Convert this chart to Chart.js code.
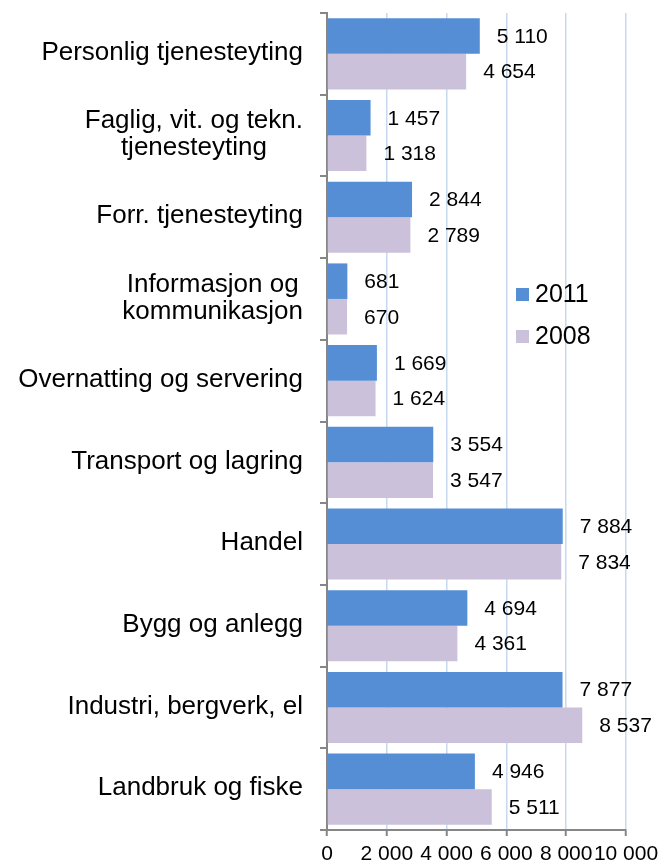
<!DOCTYPE html>
<html>
<head>
<meta charset="utf-8">
<script src="https://cdn.jsdelivr.net/npm/chart.js@4/dist/chart.umd.min.js"></script>
<style>
  html, body { margin: 0; padding: 0; background: #fff; }
  #wrap { width: 660px; height: 861px; }
</style>
</head>
<body>
<div id="wrap"><canvas id="SectorChart" width="660" height="861"></canvas></div>
<script>
// categories top to bottom, multi-line ones as arrays
const categories = [
  ['Personlig tjenesteyting'],
  ['Faglig, vit. og tekn.', 'tjenesteyting'],
  ['Forr. tjenesteyting'],
  ['Informasjon og', 'kommunikasjon'],
  ['Overnatting og servering'],
  ['Transport og lagring'],
  ['Handel'],
  ['Bygg og anlegg'],
  ['Industri, bergverk, el'],
  ['Landbruk og fiske']
];
const seriesNames = ['2011', '2008'];
const values2011 = [5110, 1457, 2844, 681, 1669, 3554, 7884, 4694, 7877, 4946];
const values2008 = [4654, 1318, 2789, 670, 1624, 3547, 7834, 4361, 8537, 5511];
const xTicks = [0, 2000, 4000, 6000, 8000, 10000];

const FONT = "'Liberation Sans', Arial, sans-serif";
const fmt = n => String(n).replace(/\B(?=(\d{3})+(?!\d))/g, ' ');

// category labels, right aligned block, lines centred in the block
const catLabels = {
  id: 'catLabels',
  afterDraw(chart) {
    const c = chart.ctx;
    const y = chart.scales.y;
    c.save();
    c.font = '26px ' + FONT;
    c.fillStyle = '#000';
    c.textAlign = 'center';
    c.textBaseline = 'middle';
    categories.forEach((lines, i) => {
      const cy = y.getPixelForValue(i) - 1;
      const w = Math.max(...lines.map(l => c.measureText(l).width));
      const cx = 303 - w / 2;
      lines.forEach((l, j) => {
        c.fillText(l, cx, cy + (j - (lines.length - 1) / 2) * 27);
      });
    });
    c.restore();
  }
};

// value labels next to each bar
const valueLabels = {
  id: 'valueLabels',
  afterDatasetsDraw(chart) {
    const c = chart.ctx;
    c.save();
    c.font = '21px ' + FONT;
    c.fillStyle = '#000';
    c.textAlign = 'left';
    c.textBaseline = 'middle';
    chart.data.datasets.forEach((ds, di) => {
      chart.getDatasetMeta(di).data.forEach((bar, i) => {
        c.fillText(fmt(ds.data[i]), bar.x + 17, bar.y + 1);
      });
    });
    c.restore();
  }
};

// legend inside the plot
const boxLegend = {
  id: 'boxLegend',
  afterDraw(chart) {
    const c = chart.ctx;
    c.save();
    c.font = '25px ' + FONT;
    c.textBaseline = 'middle';
    c.textAlign = 'left';
    chart.data.datasets.forEach((ds, i) => {
      const cy = 294 + i * 42;
      c.fillStyle = ds.backgroundColor;
      c.fillRect(516, cy - 6, 13, 13);
      c.fillStyle = '#000';
      c.fillText(ds.label, 535, cy + 1);
    });
    c.restore();
  }
};

new Chart(document.getElementById('SectorChart').getContext('2d'), {
  type: 'bar',
  data: {
    labels: categories.map(l => l.join(' ')),
    datasets: [
      { label: seriesNames[0], data: values2011, backgroundColor: '#558ED5' },
      { label: seriesNames[1], data: values2008, backgroundColor: '#CCC1DA' }
    ]
  },
  options: {
    indexAxis: 'y',
    responsive: false,
    animation: false,
    layout: { padding: { top: 13, right: 34, left: 0, bottom: 0 } },
    datasets: {
      bar: { categoryPercentage: 0.87, barPercentage: 1 }
    },
    plugins: { legend: { display: false }, tooltip: { enabled: false } },
    scales: {
      x: {
        min: 0,
        max: 10000,
        afterBuildTicks: s => { s.ticks = xTicks.map(v => ({ value: v })); },
        afterFit: s => {
          s.height = 31;
          s.paddingLeft = 0;
          s.paddingRight = 0;
        },
        ticks: {
          autoSkip: false,
          maxRotation: 0,
          minRotation: 0,
          padding: 6,
          color: '#000',
          font: { family: FONT, size: 21 },
          callback: v => fmt(v)
        },
        grid: {
          color: '#C6D9F1',
          lineWidth: 1.5,
          tickColor: '#868686',
          tickLength: 6,
          tickWidth: 2
        },
        border: { color: '#868686', width: 2 }
      },
      y: {
        afterFit: s => { s.width = 327; },
        ticks: { display: false },
        grid: {
          drawOnChartArea: false,
          color: '#868686',
          tickLength: 7,
          lineWidth: 2,
          offset: true
        },
        border: { color: '#868686', width: 2 }
      }
    }
  },
  plugins: [catLabels, valueLabels, boxLegend]
});
</script>
</body>
</html>
